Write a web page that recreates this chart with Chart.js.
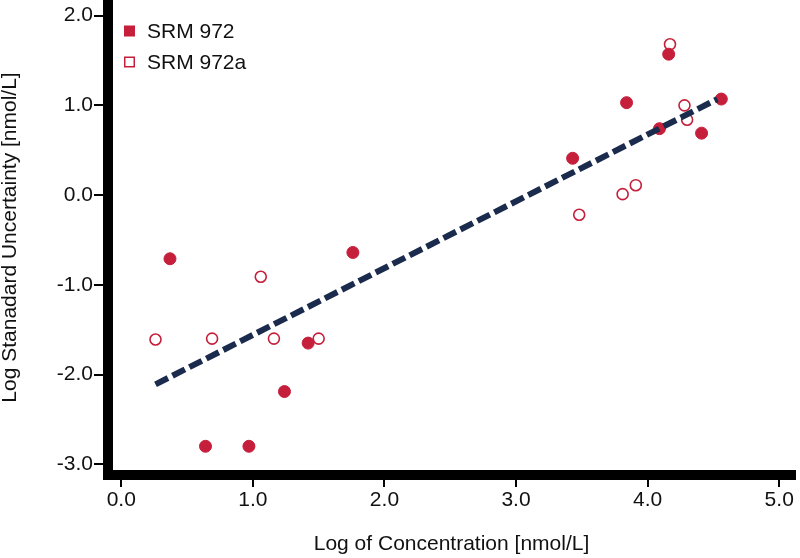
<!DOCTYPE html>
<html>
<head>
<meta charset="utf-8">
<script src="https://cdn.jsdelivr.net/npm/chart.js@4/dist/chart.umd.min.js"></script>
<style>
  html, body { margin: 0; padding: 0; background: #fff; }
  #wrap { width: 800px; height: 558px; }
</style>
</head>
<body>
<div id="wrap"><canvas id="chart" width="800" height="558"></canvas></div>
<script>
// Series names (legend)
const SERIES_NAMES = ['SRM 972', 'SRM 972a'];

// SRM 972 (filled markers)
const srm972X = [0.37, 0.64, 0.97, 1.24, 1.42, 1.76, 3.43, 3.84, 4.16, 4.09, 4.41, 4.56];
const srm972Y = [-0.71, -2.80, -2.80, -2.19, -1.65, -0.64, 0.41, 1.03, 1.57, 0.74, 0.69, 1.07];

// SRM 972a (open markers)
const srm972aX = [0.26, 0.69, 1.06, 1.16, 1.50, 3.48, 3.81, 3.91, 4.17, 4.28, 4.30];
const srm972aY = [-1.61, -1.60, -0.91, -1.60, -1.60, -0.22, 0.01, 0.11, 1.68, 1.00, 0.84];

// Regression line end points
const fitX = [0.26, 4.53];
const fitY = [-2.11, 1.07];

// Tick values
const xTicks = [0, 1, 2, 3, 4, 5];
const yTicks = [-3, -2, -1, 0, 1, 2];

// Colours and font
const RED = '#c51f3b';
const NAVY = '#1b2b4d';
const TEXT = '#111111';
const FONT = '"Liberation Sans", Arial, Helvetica, sans-serif';

function toPoints(xs, ys) {
    return xs.map((x, i) => ({ x: x, y: ys[i] }));
}

// Legend drawn inside the plot area, top left
const insideLegend = {
    id: 'insideLegend',
    afterDraw(chart) {
        const ctx = chart.ctx;
        const area = chart.chartArea;
        ctx.save();
        ctx.font = '21px ' + FONT;
        ctx.textBaseline = 'middle';
        SERIES_NAMES.forEach((name, i) => {
            const x = area.left + 16;
            const y = area.top + 31 + i * 31;
            if (i === 0) {
                ctx.fillStyle = RED;
                ctx.fillRect(x, y - 5.5, 11, 11);
            } else {
                ctx.fillStyle = '#fff';
                ctx.fillRect(x, y - 5.5, 11, 11);
                ctx.strokeStyle = RED;
                ctx.lineWidth = 1.5;
                ctx.strokeRect(x + 0.75, y - 4.75, 9.5, 9.5);
            }
            ctx.fillStyle = TEXT;
            ctx.fillText(name, x + 23, y + 1);
        });
        ctx.restore();
    }
};

function fixTicks(values) {
    return function(scale) {
        scale.ticks = values.map(v => ({ value: v }));
    };
}

const ctx = document.getElementById('chart').getContext('2d');
const chart = new Chart(ctx, {
    type: 'scatter',
    data: {
        datasets: [
            {
                type: 'line',
                label: 'Fit',
                data: toPoints(fitX, fitY),
                borderColor: NAVY,
                borderWidth: 6,
                borderDash: [14, 5],
                pointRadius: 0,
                fill: false,
                order: 0
            },
            {
                label: SERIES_NAMES[0],
                data: toPoints(srm972X, srm972Y),
                backgroundColor: RED,
                borderColor: RED,
                borderWidth: 1,
                pointRadius: 6,
                pointStyle: 'circle',
                order: 1
            },
            {
                label: SERIES_NAMES[1],
                data: toPoints(srm972aX, srm972aY),
                backgroundColor: '#ffffff',
                borderColor: RED,
                borderWidth: 1.6,
                pointRadius: 5.5,
                pointStyle: 'circle',
                order: 2
            }
        ]
    },
    options: {
        responsive: false,
        animation: false,
        devicePixelRatio: 1,
        layout: { autoPadding: false, padding: { top: 0, right: 5, bottom: 0, left: 0 } },
        plugins: {
            legend: { display: false },
            tooltip: { enabled: false }
        },
        scales: {
            x: {
                type: 'linear',
                min: -0.101,
                max: 5.12,
                afterBuildTicks: fixTicks(xTicks),
                afterFit: function(scale) { scale.height = 83; },
                grid: { display: true, drawOnChartArea: false, drawTicks: true, tickLength: 12, color: '#000', lineWidth: 2 },
                border: { display: true, color: '#000', width: 10 },
                ticks: {
                    padding: 1,
                    color: TEXT,
                    font: { family: FONT, size: 21 },
                    callback: v => Number(v).toFixed(1)
                },
                title: {
                    display: true,
                    text: 'Log of Concentration [nmol/L]',
                    color: TEXT,
                    font: { family: FONT, size: 21, lineHeight: 1 },
                    padding: { top: 0, bottom: 3.5 }
                }
            },
            y: {
                type: 'linear',
                min: -3.12,
                max: 2.174,
                afterBuildTicks: fixTicks(yTicks),
                afterFit: function(scale) {
                    scale.width = 108;
                    scale.paddingTop = 0;
                    scale.paddingBottom = 0;
                },
                grid: { display: true, drawOnChartArea: false, drawTicks: true, tickLength: 14, color: '#000', lineWidth: 2 },
                border: { display: true, color: '#000', width: 10 },
                ticks: {
                    padding: 1,
                    color: TEXT,
                    font: { family: FONT, size: 21, lineHeight: 0.01 },
                    callback: v => Number(v).toFixed(1)
                },
                title: {
                    display: true,
                    text: 'Log Stanadard Uncertainty [nmol/L]',
                    color: TEXT,
                    font: { family: FONT, size: 21, lineHeight: 1 },
                    padding: { top: 0, bottom: 0 }
                }
            }
        }
    },
    plugins: [insideLegend]
});
</script>
</body>
</html>
